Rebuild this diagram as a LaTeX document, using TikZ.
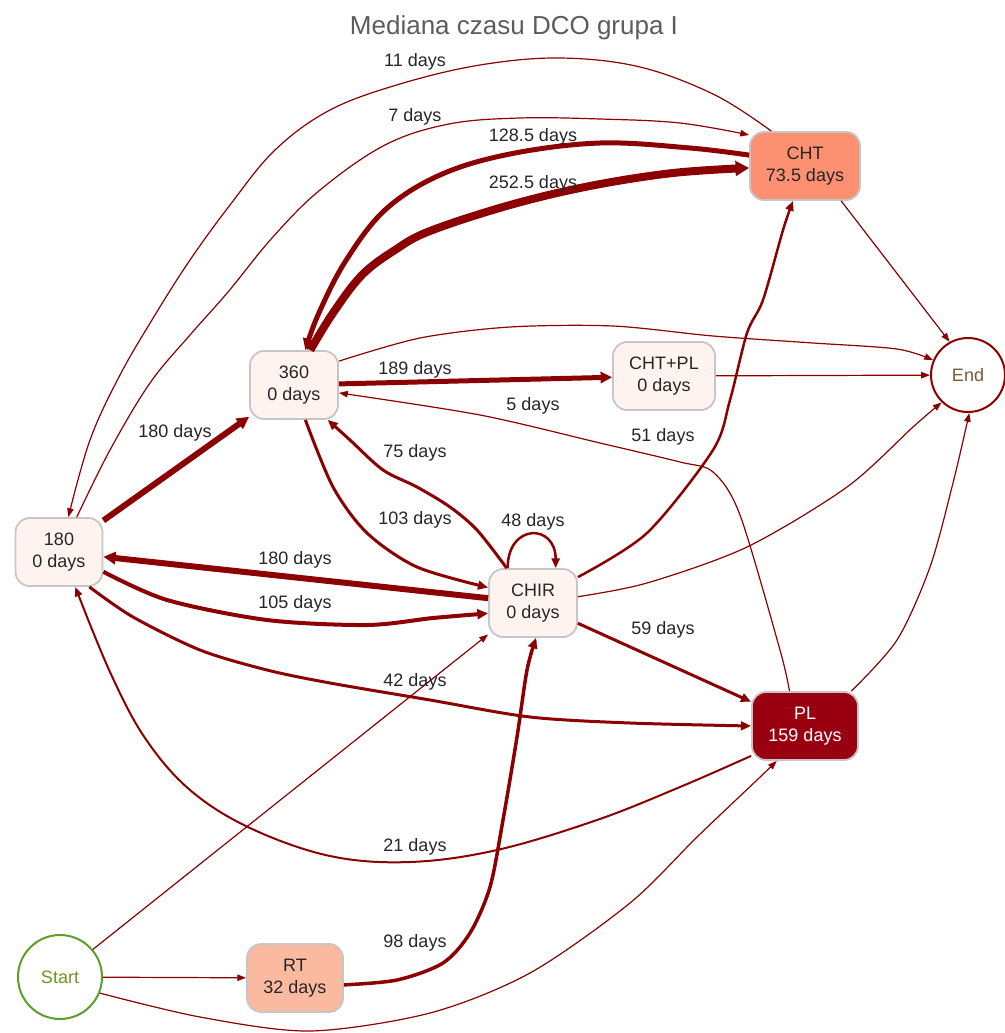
\documentclass[tikz,border=0pt]{standalone}
\usepackage{fontspec}
\setmainfont{Liberation Sans}
\usepackage{xcolor}
\usetikzlibrary{arrows.meta}

\definecolor{edgered}{HTML}{8B0000}
\definecolor{boxgray}{HTML}{C6C6C6}
\definecolor{paleact}{HTML}{FEF3EE}
\definecolor{rtfill}{HTML}{FBB9A0}
\definecolor{chtfill}{HTML}{FC9070}
\definecolor{plfill}{HTML}{990010}
\definecolor{startgreen}{HTML}{5E9E2A}
\definecolor{startolive}{HTML}{6E9620}
\definecolor{endbrown}{HTML}{7A5A35}
\definecolor{titlegray}{HTML}{5C5C5C}
\definecolor{txt}{HTML}{262626}

\newcommand{\actfont}{\fontsize{18}{22}\selectfont}
\newcommand{\titlefont}{\fontsize{26}{30}\selectfont}

\tikzset{
	act/.style = {draw = boxgray, line width = 1.8pt, rounded corners = 14pt, minimum height = 68pt, inner sep = 0pt, align = center, font = \actfont, text = txt},
	term/.style = {circle, line width = 2pt, fill = white, inner sep = 0pt, font = \actfont},
	lbl/.style = {font = \actfont, text = txt, inner sep = 1pt},
	flow/.style = {draw = edgered, line width = 1.2pt, -{Stealth[inset = 0pt, length = 8pt 0.7, width = 5pt 1.2]}},
}

\begin{document}
\begin{tikzpicture}[x = 1pt, y = -1pt]
			\def\W{1004};
			\def\H{1033};

			\useasboundingbox (0,0) rectangle (\W,\H);

			% activities
			\node [font = \titlefont, text = titlegray] (ttl) at (514,28) {Mediana czasu DCO grupa I};
			\node [act, fill = chtfill, minimum width = 110pt] (cht) at (805,166) {CHT\\73.5 days};
			\node [act, fill = paleact, minimum width = 88pt] (n360) at (294,385) {360\\0 days};
			\node [act, fill = paleact, minimum width = 102pt] (chtpl) at (664,376) {CHT+PL\\0 days};
			\node [act, fill = paleact, minimum width = 87pt] (n180) at (59,552) {180\\0 days};
			\node [act, fill = paleact, minimum width = 88pt] (chir) at (533,603) {CHIR\\0 days};
			\node [act, fill = plfill, text = white, minimum width = 106pt] (pl) at (805,726) {PL\\159 days};
			\node [act, fill = rtfill, minimum width = 96pt] (rt) at (295,978) {RT\\32 days};
			\node [term, draw = edgered, text = endbrown, minimum size = 74pt] (end) at (968,375) {End};
			\node [term, draw = startgreen, text = startolive, minimum size = 84pt] (start) at (60,977) {Start};

			% flows
			\begin{scope}[flow]
				\draw plot [smooth, tension = 0.6] coordinates {(cht.134) (715,95) (640,67) (560,58) (480,65) (400,84) (330,110) (275,150) (230,205) (190,260) (155,315) (120,375) (90,440) (n180.75)};
				\draw plot [smooth, tension = 0.6] coordinates {(n180.63) (110,450) (150,383) (190,335) (228,292) (272,238) (320,190) (385,145) (449,124) (520,118) (600,119) (680,123) (cht.151)};
				\draw [line width = 5pt] plot [smooth, tension = 0.6] coordinates {(cht.169) (690,148) (600,143) (510,154) (440,175) (385,210) (345,262) (318,315) (n360.72)};
				\draw [line width = 8pt] plot [smooth, tension = 0.6] coordinates {(n360.65) (333,313) (362,275) (395,250) (430,231) (510,205) (590,186) (673,173) (cht.182)};
				\draw plot [smooth] coordinates {(n360.28) (420,338) (510,327) (613,326) (713,336) (813,343) (897,349) (end.157)};
				\draw [line width = 5pt] (n360) -- (chtpl);
				\draw (chtpl) -- (end);
				\draw plot [smooth] coordinates {(pl.114) (780,650) (740,515) (713,472) (680,462) (600,443) (480,415) (n360.350)};
				\draw [line width = 6pt] (n180) -- (n360);
				\draw [line width = 3pt] plot [smooth] coordinates {(n360.288) (333,487) (367,533) (417,567) (chir.161)};
				\draw [line width = 3pt] plot [smooth] coordinates {(chir.127) (477,530) (450,507) (417,487) (383,470) (350,440) (n360.314)};
				\draw [line width = 2.5pt] (chir.126) .. controls +(0,-45) and +(0,-45) .. (chir.57);
				\draw [line width = 6pt] (chir) -- (n180);
				\draw [line width = 4pt] plot [smooth] coordinates {(n180.336) (167,600) (267,620) (367,625) (433,618) (chir.193)};
				\draw [line width = 3pt] plot [smooth] coordinates {(n180.311) (133,617) (200,650) (267,670) (330,683) (430,700) (530,717) (630,723) (pl.west)};
				\draw [line width = 2pt] plot [smooth, tension = 0.6] coordinates {(pl.209) (680,787) (597,820) (497,850) (410,862) (330,856) (250,828) (190,790) (145,738) (110,672) (n180.295)};
				\draw [line width = 3pt] (chir) -- (pl);
				\draw [line width = 2.5pt] plot [smooth] coordinates {(chir.30) (647,533) (713,450) (730,400) (747,333) (763,300) (783,230) (cht.251)};
				\draw plot [smooth] coordinates {(chir.8) (647,583) (747,547) (847,487) (913,427) (end.226)};
				\draw plot [smooth] coordinates {(pl.37) (897,640) (930,567) (953,483) (end.272)};
				\draw (cht.316) -- (end.119);
				\draw (start.40) -- (chir.215);
				\draw (start) -- (rt);
				\draw [line width = 3.5pt] plot [smooth] coordinates {(rt.352) (397,980) (443,963) (470,933) (490,887) (503,820) (517,737) (527,670) (chir.275)};
				\draw plot [smooth] coordinates {(start.338) (200,1017) (310,1031) (430,1013) (530,973) (630,903) (697,837) (757,780) (pl.231)};
			\end{scope}

			% durations
			\node [lbl] (l11) at (415,62) {11 days};
			\node [lbl] (l7) at (415,117) {7 days};
			\node [lbl] (l128) at (533,137) {128.5 days};
			\node [lbl] (l252) at (533,184) {252.5 days};
			\node [lbl] (l189) at (415,370) {189 days};
			\node [lbl] (l5) at (533,406) {5 days};
			\node [lbl] (l51) at (663,437) {51 days};
			\node [lbl] (l180a) at (175,433) {180 days};
			\node [lbl] (l75) at (415,453) {75 days};
			\node [lbl] (l103) at (415,520) {103 days};
			\node [lbl] (l48) at (533,522) {48 days};
			\node [lbl] (l180b) at (295,560) {180 days};
			\node [lbl] (l105) at (295,604) {105 days};
			\node [lbl] (l59) at (663,630) {59 days};
			\node [lbl] (l42) at (415,682) {42 days};
			\node [lbl] (l21) at (415,847) {21 days};
			\node [lbl] (l98) at (415,943) {98 days};
		\end{tikzpicture}
\end{document}
